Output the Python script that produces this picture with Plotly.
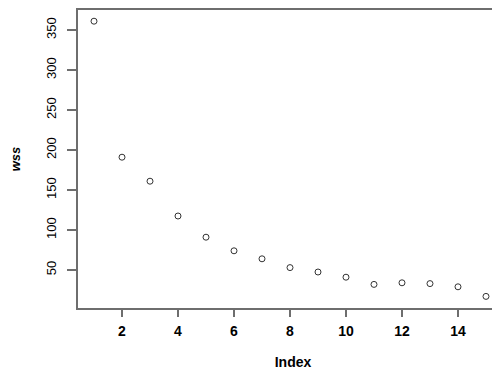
import plotly.graph_objects as go

index = list(range(1, 16))
wss = [361, 191, 161, 117.5, 91, 74, 64, 53, 47.5, 41, 32, 34, 33, 29, 17]
x_ticks = [2, 4, 6, 8, 10, 12, 14]
y_ticks = [50, 100, 150, 200, 250, 300, 350]

axis_color = "#6e6e6e"
font_family = "Liberation Sans, Arial, sans-serif"

fig = go.Figure(
    go.Scatter(
        x=index,
        y=wss,
        mode="markers",
        marker=dict(symbol="circle-open", size=6, color="#333333", line=dict(width=1)),
        hoverinfo="x+y",
    )
)

# The page adds an 8px body margin, so margins are offset by 8px.
fig.update_layout(
    width=500,
    height=370,
    margin=dict(l=70, r=0, t=2, b=70),
    paper_bgcolor="white",
    plot_bgcolor="white",
    showlegend=False,
    font=dict(family=font_family, color="black"),
)

fig.update_xaxes(
    automargin=False,
    range=[0.4286, 15.786],
    tickvals=x_ticks,
    ticktext=[f"<b>{v}</b>" for v in x_ticks],
    ticks="outside",
    ticklen=7,
    tickwidth=1.5,
    tickcolor=axis_color,
    tickfont=dict(size=14, color="black"),
    ticklabelstandoff=2,
    showline=True,
    linecolor=axis_color,
    linewidth=1.5,
    mirror=True,
    showgrid=False,
    zeroline=False,
    title=dict(text="<b>Index</b>", font=dict(size=14, color="black"), standoff=20),
)

fig.update_yaxes(
    automargin=False,
    range=[2.5, 375],
    tickvals=y_ticks,
    ticks="outside",
    ticklen=9,
    tickwidth=1.5,
    tickcolor=axis_color,
    tickangle=-90,
    tickfont=dict(size=13, color="black"),
    ticklabelstandoff=6,
    showline=True,
    linecolor=axis_color,
    linewidth=1.5,
    mirror=False,
    showgrid=False,
    zeroline=False,
    title=dict(text="<b><i>wss</i></b>", font=dict(size=13, color="black"), standoff=21),
)

fig.write_html("out.html")
